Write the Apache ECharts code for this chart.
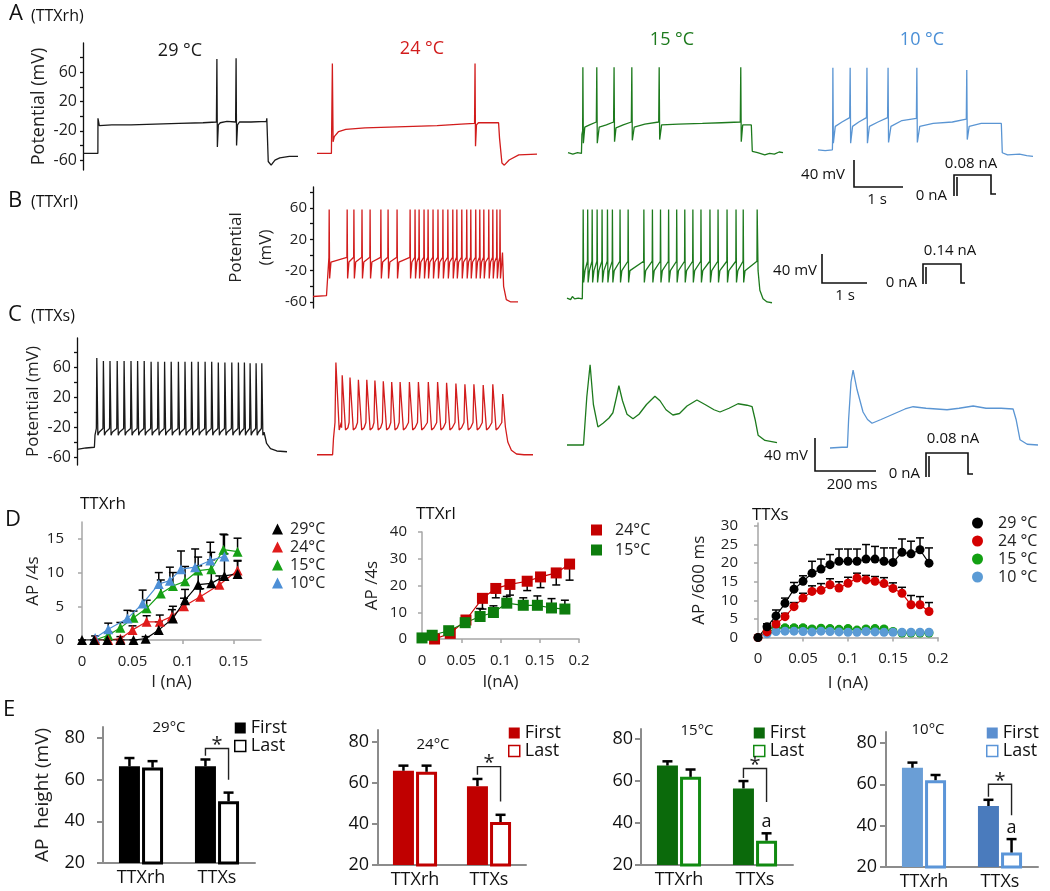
<!DOCTYPE html>
<html><head><meta charset="utf-8">
<script src="https://cdn.jsdelivr.net/npm/echarts@6/dist/echarts.min.js"></script>
<style>html,body{margin:0;padding:0;background:#fff}#c{width:1050px;height:891px}</style>
</head><body><div id="c"></div>
<script>
// ---------------- DATA ----------------
// Row A (TTXrh) voltage traces: [time s, potential mV]
const a29 = [[0,-51],[0.31,-51],[0.312,-3],[0.34,-13],[0.6,-12],[1.0,-12],[1.5,-11],[2.0,-10],[2.5,-9],[2.78,-8],[2.79,78],[2.8,-42],[2.82,-12],[2.86,-9],[3.0,-7],[3.18,-8],[3.19,79],[3.2,-40],[3.22,-12],[3.26,-8],[3.5,-8],[3.82,-7],[3.83,-3],[3.86,-62],[3.92,-67],[4.0,-60],[4.1,-57],[4.3,-55],[4.48,-55]];
const a24 = [[0,-51],[0.3,-51],[0.31,-50],[0.32,72],[0.335,-35],[0.36,-28],[0.45,-21],[0.6,-18],[1.0,-16],[1.5,-15],[2.0,-14],[2.5,-13],[3.0,-11],[3.28,-10],[3.29,72],[3.3,-41],[3.32,-12],[3.36,-9],[3.6,-9],[3.78,-9],[3.8,-30],[3.85,-64],[3.9,-67],[4.0,-60],[4.2,-53],[4.58,-52]];
const a15 = [[0,-50],[0.1,-52],[0.2,-50],[0.28,-51],[0.29,-25],[0.305,-20],[0.31,67],[0.32,-37],[0.35,-15],[0.45,-12],[0.59,-8],[0.6,67],[0.61,-37],[0.65,-15],[0.8,-12],[0.95,-8],[0.96,67],[0.97,-35],[1.0,-16],[1.15,-12],[1.32,-8],[1.33,67],[1.34,-33],[1.38,-15],[1.6,-11],[1.89,-8],[1.9,67],[1.91,-32],[1.95,-12],[2.3,-11],[2.8,-10],[3.2,-9],[3.59,-8],[3.6,67],[3.61,-35],[3.64,-12],[3.82,-12],[3.84,-48],[3.95,-50],[4.1,-53],[4.2,-51],[4.3,-52],[4.4,-49],[4.48,-50]];
const a10 = [[0,-46],[0.15,-47],[0.3,-46],[0.305,-30],[0.31,66],[0.32,-37],[0.36,-14],[0.5,-8],[0.66,-2],[0.67,66],[0.68,-37],[0.72,-14],[0.85,-8],[1.01,-2],[1.02,66],[1.03,-37],[1.07,-14],[1.25,-8],[1.45,-2],[1.46,66],[1.47,-36],[1.52,-14],[1.75,-6],[2.05,-3],[2.06,66],[2.07,-36],[2.12,-14],[2.4,-10],[2.8,-8],[3.09,-4],[3.1,63],[3.11,-32],[3.15,-14],[3.4,-10],[3.82,-10],[3.84,-50],[3.95,-53],[4.2,-52],[4.35,-54],[4.48,-55]];

// Row B (TTXrl): subthreshold keypoints, spike times (s), levels [peak, pre, trough, recovery]
const b24Env = [[0,-53],[0.3,-52],[0.34,-53],[4.215,3],[4.24,-40],[4.3,-57],[4.4,-60],[4.56,-60]];
const b24Spk = [0.36,0.76,0.91,1.09,1.27,1.51,1.67,1.87,2.16,2.27,2.36,2.47,2.56,2.67,2.78,2.89,3.0,3.11,3.2,3.31,3.42,3.51,3.62,3.71,3.8,3.91,4.0,4.09,4.16];
const b24Lvl = [58,-3,-30,-9];
const b15Env = [[0,-55],[0.08,-57],[0.12,-53],[0.17,-56],[0.25,-55],[0.34,-56],[4.25,-20],[4.29,-45],[4.36,-56],[4.45,-60],[4.56,-61]];
const b15Spk = [0.36,0.46,0.56,0.67,0.78,0.9,1.01,1.18,1.36,1.71,1.9,2.08,2.26,2.44,2.62,2.8,2.98,3.18,3.36,3.56,3.76,3.92,4.23];
const b15Lvl = [58,-8,-35,-20];

// Row C (TTXs): time in ms
const c29Env = [[0,-50],[30,-48],[58,-47],[60,-31],[626,-27],[632,-42],[645,-49],[666,-52],[700,-53]];
const c29Spk = [66,88,110,134,157,180,202,224,247,270,292,314,338,360,382,404,427,449,471,493,516,538,558,577,597,616];
const c29Peak = [72,68,68,68,68,68,68,68,67,67,67,67,67,67,67,67,67,67,66,66,66,66,66,65,65,65];
const c29Lvl = [-22,-31,-27];
const c24Env = [[0,-57],[52,-57],[55,-35],[628,-20],[636,-40],[648,-51],[665,-56],[690,-57],[720,-57]];
const c24Spk = [63,84,110,138,166,193,221,249,277,308,338,371,402,432,463,493,523,554,586,619];
const c24Peak = [66,49,46,43,43,42,41,40,40,40,40,40,40,39,38,37,37,36,37,24];
const c24Lvl = [-14,-24,-21];
const c15 = [[0,-44],[55,-44],[60,-44],[66,20],[77,63],[88,10],[103,-20],[120,-15],[140,-8],[153,-1],[165,20],[173,35],[185,15],[200,-3],[220,-9],[240,-3],[265,10],[293,21],[310,15],[330,3],[353,-4],[375,-2],[400,8],[433,16],[460,10],[490,3],[510,0],[540,5],[570,11],[600,9],[617,7],[627,-10],[637,-31],[660,-38],[687,-40],[700,-41]];
const c10 = [[0,-48],[40,-47],[58,-47],[62,-10],[70,40],[77,56],[90,30],[110,0],[125,-10],[140,-15],[170,-10],[210,-3],[250,4],[277,7],[320,5],[390,3],[430,5],[477,8],[520,5],[570,5],[610,4],[620,-10],[633,-37],[657,-43],[693,-44]];
const potLabels = [-60,-20,20,60];
const potTicks = [-60,-40,-20,0,20,40,60,80];

// Row D: current (nA), AP count, SEM
const d1X29 = [0,0.012,0.025,0.038,0.051,0.063,0.076,0.09,0.102,0.115,0.128,0.141,0.154];
const d1Y29 = [0,0,0,0,0,0.2,1.5,3.2,5.9,8.2,8.4,9.5,9.8];
const d1E29 = [0,0,0,0,0,0.3,1.2,1.8,1.6,2.8,3.5,3.3,2.0];
const d1X24 = [0.013,0.026,0.038,0.05,0.064,0.077,0.089,0.101,0.117,0.136,0.154];
const d1Y24 = [0,0,0.2,1.5,2.7,2.7,3.5,5.0,6.4,8.2,10.3];
const d1E24 = [0,0,0.3,0.6,0.9,1.0,1.0,1.2,1.2,1.3,1.4];
const d1X15 = [0.013,0.026,0.038,0.051,0.064,0.078,0.09,0.102,0.115,0.128,0.14,0.154];
const d1Y15 = [0,0.7,1.8,3.3,4.7,6.9,8.0,8.7,10.3,10.5,13.4,13.1];
const d1E15 = [0,0.5,0.8,1.0,1.2,2.0,2.0,2.2,2.0,2.5,2.3,2.0];
const d1X10 = [0.013,0.026,0.045,0.06,0.076,0.087,0.098,0.112,0.127,0.141];
const d1Y10 = [0.3,1.6,3.2,5.4,8.3,8.8,10.5,10.8,11.8,12.4];
const d1E10 = [0.3,0.9,1.2,2.0,1.7,2.0,2.7,2.7,2.7,3.2];
const d2X24 = [0.016,0.036,0.056,0.077,0.094,0.112,0.134,0.151,0.171,0.188];
const d2Y24 = [0,2.1,7.1,15.2,18.9,20.4,21.6,23.2,24.7,28.0];
const d2E24 = [0,-0.5,-1,-4,-3.5,-4,-3.5,-4,-4.5,-6];
const d2X15 = [0,0.013,0.034,0.055,0.074,0.091,0.108,0.129,0.147,0.165,0.182];
const d2Y15 = [0.4,1.4,3.1,6.1,8.4,9.9,13.4,12.6,12.6,11.6,11.2];
const d2E15 = [0.3,0.5,0.8,0.8,3.0,2.5,2.5,2.8,3.5,3.5,3.3];
const d3X = [0,0.01,0.02,0.03,0.04,0.05,0.06,0.07,0.08,0.09,0.1,0.11,0.12,0.13,0.14,0.15,0.16,0.17,0.18,0.19];
const d3Y29 = [0,2.9,5.8,9.2,13,15.1,17.3,18.4,19.6,20.5,20.5,20.5,21.1,21.1,20.5,20.2,22.9,22.5,23.6,20];
const d3E29 = [0,0.8,1.6,1.4,1.8,1.5,3.2,2.7,2.7,3.3,3.3,3.3,3.9,3.4,3.6,3.9,3.6,3.4,3.2,4.1];
const d3Y24 = [0,1.5,3.6,5.6,8.3,10.6,12.4,12.7,14.2,13.3,14.6,16.0,15.5,15.1,14.5,13.2,11.9,8.8,8.8,7.0];
const d3E24 = [0,0.5,0.7,0.9,1.1,1.3,1.5,1.8,1.6,1.7,1.6,1.3,1.2,1.3,1.6,1.5,1.6,2.5,2.2,2.4];
const d3Xc = [0.01,0.02,0.03,0.04,0.05,0.06,0.07,0.08,0.09,0.1,0.11,0.12,0.13,0.14,0.15,0.16,0.17,0.18,0.19];
const d3Y15 = [1.3,2.5,2.6,2.6,2.6,2.3,2.5,2.4,2.2,2.4,2.0,2.3,2.4,2.3,1.6,1.2,1.2,1.2,1.2];
const d3E15 = [0.3,0.6,0.5,0.5,0.5,0.4,0.4,0.4,0.4,0.4,0.4,0.4,0.4,0.4,0.3,0.3,0.3,0.3,0.3];
const d3Y10 = [1.0,1.6,1.7,1.7,1.6,1.5,1.7,1.6,1.5,1.4,1.4,1.6,1.5,1.4,1.4,1.4,1.4,1.4,1.4];
const d3E10 = [0.3,0.4,0.4,0.4,0.4,0.4,0.4,0.4,0.4,0.4,0.4,0.4,0.4,0.4,0.4,0.4,0.4,0.4,0.4];

// Row E: AP height (mV), SEM; significance bracket [left, top, right] in mV; "a" label position
const eCats = ['TTXrh','TTXs'];
const e29First = [66.4,66.4], e29FirstErr = [4.0,3.3], e29Last = [65.8,49.6], e29LastErr = [3.1,4.2], e29Sig = [71.5,75,60];
const e24First = [66.0,58.5], e24FirstErr = [2.5,3.5], e24Last = [65.5,41.0], e24LastErr = [3.0,3.5], e24Sig = [64,68,51];
const e15First = [67.4,56.5], e15FirstErr = [2.0,3.5], e15Last = [62.0,31.6], e15LastErr = [3.5,3.5], e15Sig = [61.5,66,50], e15A = 40.5;
const e10First = [68.0,49.5], e10FirstErr = [2.5,3.0], e10Last = [62.0,27.0], e10LastErr = [2.5,6.5], e10Sig = [54,60,45], e10A = 39;

// ---------------- BUILD ----------------
const FONT = '"Open Sans","Noto Sans","DejaVu Sans",sans-serif';
const grids = [], xAxes = [], yAxes = [], series = [], legends = [], graphics = [];

function train(env, spk, peak, lvl, shp, lastOpen) {
  const pts = env.map(p => [p[0], p[1]]);
  spk.forEach((t, i) => {
    const pk = Array.isArray(peak) ? peak[i] : peak;
    pts.push([t - shp[0], lvl[0]], [t, pk]);
    if (!(lastOpen && i === spk.length - 1)) pts.push([t + shp[1], lvl[1]], [t + shp[1] + shp[2], lvl[2]]);
  });
  return pts.sort((a, b) => a[0] - b[0]);
}
function grid(l, t, w, h) {
  grids.push({left: l, top: t, width: w, height: h, containLabel: false, outerBoundsMode: 'none'});
  return grids.length - 1;
}
function potAxis(gi, yr, name, gap, lbl, nameSize, lineH) {
  return {gridIndex: gi, type: 'value', min: yr[0], max: yr[1],
    name: name, nameLocation: 'middle', nameGap: gap, nameRotate: 90,
    nameTextStyle: {fontSize: nameSize, color: '#222', fontFamily: FONT, lineHeight: lineH || nameSize * 1.2},
    axisLine: {show: true, lineStyle: {color: '#111', width: 1.3}},
    axisTick: {show: true, length: 3, inside: false, customValues: potTicks, lineStyle: {color: '#111', width: 1.3}},
    axisLabel: {show: true, customValues: potLabels, fontSize: lbl, color: '#222', fontFamily: FONT, margin: 6},
    splitLine: {show: false}};
}
function trace(box, xMax, yr, pts, color, yAx) {
  const gi = grid(box[0], box[1], box[2], box[3]);
  xAxes.push({gridIndex: gi, type: 'value', min: 0, max: xMax, show: false});
  yAxes.push(yAx ? potAxis(gi, yr, yAx[0], yAx[1], yAx[2], yAx[3], yAx[4]) : {gridIndex: gi, type: 'value', min: yr[0], max: yr[1], show: false});
  series.push({type: 'line', xAxisIndex: gi, yAxisIndex: gi, data: pts, symbol: 'none', silent: true,
    lineStyle: {color: color, width: 1.3}, itemStyle: {color: color}});
}
function txt(s, x, y, size, color, align) {
  graphics.push({type: 'text', x: x, y: y, silent: true, z: 10,
    style: {text: s, fontSize: size, fontFamily: FONT, fill: color || '#111', align: align || 'left', verticalAlign: 'middle'}});
}
function pline(pts, w) {
  graphics.push({type: 'polyline', silent: true, z: 10, shape: {points: pts}, style: {stroke: '#111', lineWidth: w || 1.6, fill: null}});
}

const KC = '#1a1a1a', RC = '#d21c1c', GC = '#1d7a1d', BC = '#5a95d3';
const yA = [-73.6, 100], yB = [-67.7, 86.8], yC = [-70.7, 98.7];

// Row A
trace([83, 43, 215, 127], 4.48, yA, a29, KC, ['Potential (mV)', 27, 16, 18]);
trace([317, 43, 220, 127], 4.58, yA, a24, RC);
trace([568, 43, 215, 127], 4.48, yA, a15, GC);
trace([818, 43, 215, 127], 4.48, yA, a10, BC);
// Row B
trace([313, 187, 205, 121], 4.56, yB, train(b24Env, b24Spk, b24Lvl[0], b24Lvl.slice(1), [0.006, 0.01, 0.03], false), RC, ['Potential\n(mV)', 25, 15, 17, 30]);
trace([567, 187, 205, 121], 4.56, yB, train(b15Env, b15Spk, b15Lvl[0], b15Lvl.slice(1), [0.005, 0.01, 0.03], true), GC);
// Row C
trace([77, 338, 210, 127], 700, yC, train(c29Env, c29Spk, c29Peak, c29Lvl, [1.5, 3.5, 4], false), KC, ['Potential (mV)', 31, 16, 17]);
trace([317, 338, 216, 127], 720, yC, train(c24Env, c24Spk, c24Peak, c24Lvl, [3, 11, 8], true), RC);
trace([567, 338, 210, 127], 700, yC, c15, GC);
trace([830, 338, 208, 127], 693, yC, c10, BC);

// Row D
function dAxes(gi, xMax, yMax, xT, yT, xName, xGap, yName, yGap, yMargin) {
  const ax = {color: '#a6a6a6', width: 1.5};
  xAxes.push({gridIndex: gi, type: 'value', min: 0, max: xMax, name: xName, nameLocation: 'middle', nameGap: xGap,
    nameTextStyle: {fontSize: 17, color: '#222', fontFamily: FONT},
    axisLine: {show: true, lineStyle: ax}, axisTick: {show: true, length: 4, customValues: xT, lineStyle: ax},
    axisLabel: {customValues: xT, fontSize: 15, color: '#222', fontFamily: FONT, margin: 14, formatter: v => String(Math.round(v * 100) / 100)},
    splitLine: {show: false}});
  yAxes.push({gridIndex: gi, type: 'value', min: 0, max: yMax, name: yName, nameLocation: 'middle', nameGap: yGap, nameRotate: 90,
    nameTextStyle: {fontSize: 17, color: '#222', fontFamily: FONT},
    axisLine: {show: true, lineStyle: ax}, axisTick: {show: true, length: 4, customValues: yT, lineStyle: ax},
    axisLabel: {customValues: yT, fontSize: 15, color: '#222', fontFamily: FONT, margin: yMargin},
    splitLine: {show: false}});
}
function errItem(cap) {
  return function (p, api) {
    const x = api.value(0), y = api.value(1), e = api.value(2);
    const a = api.coord([x, y]), b = api.coord([x, y + e]);
    return {type: 'group', children: [
      {type: 'line', shape: {x1: a[0], y1: a[1], x2: b[0], y2: b[1]}, style: {stroke: '#000', lineWidth: 1.5}},
      {type: 'line', shape: {x1: b[0] - cap, y1: b[1], x2: b[0] + cap, y2: b[1]}, style: {stroke: '#000', lineWidth: 1.5}}]};
  };
}
function dSeries(gi, name, xs, ys, es, color, symbol, size) {
  series.push({type: 'custom', xAxisIndex: gi, yAxisIndex: gi, silent: true, renderItem: errItem(4),
    data: xs.map((x, i) => [x, ys[i], es[i]]), z: 1});
  series.push({type: 'line', name: name, xAxisIndex: gi, yAxisIndex: gi, data: xs.map((x, i) => [x, ys[i]]),
    symbol: symbol, symbolSize: size, showSymbol: true, silent: true,
    lineStyle: {color: color, width: 1.2}, itemStyle: {color: color, borderWidth: 0}, z: 3});
}
function dLegend(names, left, top, icon, lh, pad) {
  legends.push({show: true, data: names, left: left, top: top, orient: 'vertical', icon: icon, itemWidth: 11, itemHeight: 11,
    itemGap: 0, padding: 0, selectedMode: false, formatter: n => n.trim(),
    textStyle: {fontSize: 16, color: '#222', fontFamily: FONT, lineHeight: lh, padding: [0, 0, 0, pad]}});
}
let gi = grid(82, 522, 179, 118);
dAxes(gi, 0.1772, 17.5, [0, 0.05, 0.1, 0.15], [0, 5, 10, 15], 'I (nA)', 34, 'AP /4s', 40, 18);
dSeries(gi, '15°C', d1X15, d1Y15, d1E15, '#16a016', 'triangle', 10);
dSeries(gi, '10°C', d1X10, d1Y10, d1E10, '#4d8fd6', 'triangle', 10);
dSeries(gi, '24°C', d1X24, d1Y24, d1E24, '#e01b1b', 'triangle', 10);
dSeries(gi, '29°C', d1X29, d1Y29, d1E29, '#000', 'triangle', 10);
dLegend(['29°C', '24°C', '15°C', '10°C'], 272, 520, 'triangle', 18, 2);

gi = grid(422, 532, 157, 107);
dAxes(gi, 0.2, 40, [0, 0.05, 0.1, 0.15, 0.2], [0, 10, 20, 30, 40], 'I(nA)', 35, 'AP /4s', 41, 15);
dSeries(gi, '24°C ', d2X24, d2Y24, d2E24, '#c40000', 'rect', 11);
dSeries(gi, '15°C ', d2X15, d2Y15, d2E15, '#0d7d0d', 'rect', 11);
dLegend(['24°C ', '15°C '], 591, 520, 'rect', 20, 8);

gi = grid(758, 523, 180, 114.5);
dAxes(gi, 0.2, 30.8, [0, 0.05, 0.1, 0.15, 0.2], [0, 5, 10, 15, 20, 25, 30], 'I (nA)', 37, 'AP /600 ms', 50, 20);
dSeries(gi, '15 °C', d3Xc, d3Y15, d3E15, '#12a012', 'circle', 9);
dSeries(gi, '10 °C', d3Xc, d3Y10, d3E10, '#5b9bd5', 'circle', 9);
dSeries(gi, '24 °C', d3X, d3Y24, d3E24, '#d40000', 'circle', 9);
dSeries(gi, '29 °C', d3X, d3Y29, d3E29, '#000', 'circle', 9);
dLegend(['29 °C', '24 °C', '15 °C', '10 °C'], 972, 514, 'circle', 18, 10);

// Row E
const BW = 21, OFF = (BW + BW * 0.1) / 2;
function eErr(side) {
  return function (p, api) {
    const a = api.coord([api.value(0), api.value(1)]), b = api.coord([api.value(0), api.value(1) + api.value(2)]);
    const x = a[0] + side * OFF;
    return {type: 'group', children: [
      {type: 'line', shape: {x1: x, y1: a[1], x2: x, y2: b[1]}, style: {stroke: '#000', lineWidth: 2.5}},
      {type: 'line', shape: {x1: x - 5, y1: b[1], x2: x + 5, y2: b[1]}, style: {stroke: '#000', lineWidth: 2.5}}]};
  };
}
function bracket(p, api) {
  const c = api.value(0);
  const l = api.coord([c, api.value(1)]), t = api.coord([c, api.value(2)]), r = api.coord([c, api.value(3)]);
  const xl = t[0] - OFF, xr = t[0] + OFF;
  return {type: 'group', children: [
    {type: 'polyline', shape: {points: [[xl, l[1]], [xl, t[1]], [xr, t[1]], [xr, r[1]]]}, style: {stroke: '#222', lineWidth: 1.4, fill: null}},
    {type: 'text', x: (xl + xr) / 2, y: t[1] - 3, style: {text: '*', fontSize: 20, fontFamily: FONT, fill: '#222', align: 'center', verticalAlign: 'middle'}}]};
}
function aMark(p, api) {
  const q = api.coord([api.value(0), api.value(1)]);
  return {type: 'text', x: q[0] + OFF, y: q[1], style: {text: 'a', fontSize: 18, fontFamily: FONT, fill: '#111', align: 'center', verticalAlign: 'middle'}};
}
function ePanel(box, yMax, first, fErr, last, lErr, fCols, lCol, legCol, nF, nL, sig, aVal, yMargin, yName, leg) {
  const g = grid(box[0], box[1], box[2], box[3]);
  const ax = {color: '#8c8c8c', width: 2};
  xAxes.push({gridIndex: g, type: 'category', data: eCats, axisLine: {show: true, lineStyle: ax}, axisTick: {show: false},
    axisLabel: {fontSize: 18, color: '#111', fontFamily: FONT, margin: 6}, splitLine: {show: false}});
  yAxes.push({gridIndex: g, type: 'value', min: 20, max: yMax, name: yName || '', nameLocation: 'middle', nameGap: 51, nameRotate: 90,
    nameTextStyle: {fontSize: 19, color: '#222', fontFamily: FONT},
    axisLine: {show: true, lineStyle: ax}, axisTick: {show: true, length: 6, customValues: [20, 40, 60, 80], lineStyle: ax},
    axisLabel: {customValues: [20, 40, 60, 80], fontSize: 18, color: '#111', fontFamily: FONT, margin: yMargin}, splitLine: {show: false}});
  series.push({type: 'bar', name: nF, xAxisIndex: g, yAxisIndex: g, barWidth: BW, barGap: '10%', silent: true,
    itemStyle: {color: legCol}, data: first.map((v, i) => ({value: v, itemStyle: {color: fCols[i]}}))});
  series.push({type: 'bar', name: nL, xAxisIndex: g, yAxisIndex: g, barWidth: BW, barGap: '10%', silent: true,
    itemStyle: {color: '#fff', borderColor: lCol, borderWidth: 3}, data: last.slice()});
  series.push({type: 'custom', xAxisIndex: g, yAxisIndex: g, silent: true, renderItem: eErr(-1), data: first.map((v, i) => [i, v, fErr[i]]), z: 4});
  series.push({type: 'custom', xAxisIndex: g, yAxisIndex: g, silent: true, renderItem: eErr(1), data: last.map((v, i) => [i, v, lErr[i]]), z: 4});
  series.push({type: 'custom', xAxisIndex: g, yAxisIndex: g, silent: true, renderItem: bracket, data: [[1, sig[0], sig[1], sig[2]]], z: 4});
  if (aVal != null) series.push({type: 'custom', xAxisIndex: g, yAxisIndex: g, silent: true, renderItem: aMark, data: [[1, aVal]], z: 4});
  legends.push({show: true, left: leg[0], top: leg[1], orient: 'vertical', itemWidth: 11, itemHeight: 11, itemGap: 0, padding: 0,
    selectedMode: false, formatter: n => n.trim(),
    textStyle: {fontSize: 18, color: '#111', fontFamily: FONT, lineHeight: 17},
    data: [{name: nF, icon: 'rect', itemStyle: {color: legCol, borderWidth: 0}},
           {name: nL, icon: 'rect', itemStyle: {color: '#fff', borderColor: lCol, borderWidth: 1.5}}]});
}
ePanel([103, 727, 152, 136], 85.3, e29First, e29FirstErr, e29Last, e29LastErr, ['#000', '#000'], '#000', '#000', 'First', 'Last', e29Sig, null, 18, 'AP  height (mV)', [234, 719]);
ePanel([378, 730, 148, 135], 85.9, e24First, e24FirstErr, e24Last, e24LastErr, ['#c00000', '#c00000'], '#c00000', '#c00000', 'First ', 'Last ', e24Sig, null, 9, '', [508, 724]);
ePanel([641, 729, 152, 136], 84.8, e15First, e15FirstErr, e15Last, e15LastErr, ['#0b6a0b', '#0b6a0b'], '#118a11', '#0b6a0b', 'First  ', 'Last  ', e15Sig, e15A, 8, '', [753, 724]);
ePanel([886, 732, 152, 135], 85.3, e10First, e10FirstErr, e10Last, e10LastErr, ['#6a9ed6', '#4a7bbd'], '#5b95d8', '#5b8fd0', 'First   ', 'Last   ', e10Sig, e10A, 9, '', [986, 724]);

// Text labels
txt('A', 9, 14, 22); txt('(TTXrh)', 31, 16, 16);
txt('B', 8, 201, 22); txt('(TTXrl)', 31, 202, 16);
txt('C', 8, 315, 22); txt('(TTXs)', 31, 316, 16);
txt('D', 5, 520, 22); txt('E', 3, 710, 22);
txt('29 °C', 180, 51, 18, '#1a1a1a', 'center');
txt('24 °C', 422, 49, 18, '#d21c1c', 'center');
txt('15 °C', 672, 40, 18, '#1d7a1d', 'center');
txt('10 °C', 922, 40, 18, '#4a8fd6', 'center');
txt('TTXrh', 80, 504, 17); txt('TTXrl', 416, 514, 17); txt('TTXs', 752, 515, 17);
txt('29°C', 169, 728, 15, '#111', 'center');
txt('24°C', 433, 745, 15, '#111', 'center');
txt('15°C', 697, 731, 15, '#111', 'center');
txt('10°C', 928, 730, 15, '#111', 'center');
// scale bars and current-step icons
pline([[854, 160], [854, 187], [903, 187]]);
txt('40 mV', 845, 175, 15, '#111', 'right'); txt('1 s', 877, 200, 15, '#111', 'center');
pline([[954, 196], [954, 175], [991, 175], [991, 194], [996, 194]]); pline([[957, 196], [957, 177]]);
txt('0 nA', 947, 196, 15, '#111', 'right'); txt('0.08 nA', 971, 164, 15, '#111', 'center');
pline([[822, 254], [822, 283], [867, 283]]);
txt('40 mV', 817, 271, 15, '#111', 'right'); txt('1 s', 845, 296, 15, '#111', 'center');
pline([[923, 284], [923, 264], [961, 264], [961, 283], [965, 283]]); pline([[926, 284], [926, 267]]);
txt('0 nA', 917, 283, 15, '#111', 'right'); txt('0.14 nA', 950, 251, 15, '#111', 'center');
pline([[815, 438], [815, 471], [876, 471]]);
txt('40 mV', 808, 456, 15, '#111', 'right'); txt('200 ms', 852, 485, 15, '#111', 'center');
pline([[926, 477], [926, 453], [968, 453], [968, 474], [973, 474]]); pline([[929, 477], [929, 456]]);
txt('0 nA', 920, 474, 15, '#111', 'right'); txt('0.08 nA', 953, 439, 15, '#111', 'center');

const chart = echarts.init(document.getElementById('c'), null, {renderer: 'canvas'});
chart.setOption({
  animation: false, backgroundColor: '#fff', textStyle: {fontFamily: FONT},
  grid: grids, xAxis: xAxes, yAxis: yAxes, series: series, legend: legends, graphic: graphics, tooltip: {show: false}
});
</script></body></html>
